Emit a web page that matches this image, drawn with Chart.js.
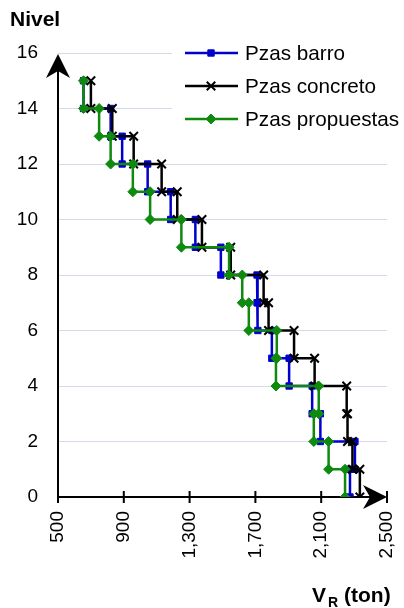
<!DOCTYPE html>
<html>
<head>
<meta charset="utf-8">
<script src="https://cdn.jsdelivr.net/npm/chart.js@4/dist/chart.umd.min.js"></script>
<style>
body { margin: 0; background: #fff; }
#wrap { width: 404px; height: 608px; position: relative; }
</style>
</head>
<body>
<div id="wrap"><canvas id="grafica"></canvas></div>
<script>
// entrepisos de arriba hacia abajo: el 15 va del nivel 15 al 14, etc.
var entrepisos  = [15, 14, 13, 12, 11, 10, 9, 8, 7, 6, 5, 4, 3, 2, 1];
var vBarro      = [655, 820, 890, 1045, 1185, 1335, 1490, 1710, 1715, 1800, 1905, 2045, 2095, 2305, 2275];
var vConcreto   = [700, 830, 960, 1130, 1225, 1375, 1550, 1750, 1780, 1935, 2060, 2255, 2260, 2290, 2335];
var vPropuestas = [655, 750, 820, 955, 1060, 1250, 1540, 1620, 1660, 1830, 1825, 2085, 2055, 2145, 2245];
var series      = ['Pzas barro', 'Pzas concreto', 'Pzas propuestas'];
var xTicks      = [500, 900, 1300, 1700, 2100, 2500];
var yTicks      = [0, 2, 4, 6, 8, 10, 12, 14, 16];

var fuente = "'Liberation Sans', Arial, sans-serif";

// cada entrepiso da un tramo vertical entre dos niveles
function escalones(valores) {
    var pts = [];
    entrepisos.forEach(function(n, i) {
        pts.push({x: valores[i], y: n});
        pts.push({x: valores[i], y: n - 1});
    });
    return pts;
}

function marcador(ctx, estilo, r, x, y) {
    ctx.beginPath();
    if (estilo == 'rect') {
        var s = r * Math.SQRT1_2;
        ctx.rect(x - s, y - s, 2 * s, 2 * s);
        ctx.fill(); ctx.stroke();
    } else if (estilo == 'rectRot') {
        ctx.moveTo(x, y - r); ctx.lineTo(x + r, y); ctx.lineTo(x, y + r); ctx.lineTo(x - r, y);
        ctx.closePath();
        ctx.fill(); ctx.stroke();
    } else {
        var c = r * Math.SQRT1_2;
        ctx.moveTo(x - c, y - c); ctx.lineTo(x + c, y + c);
        ctx.moveTo(x - c, y + c); ctx.lineTo(x + c, y - c);
        ctx.stroke();
    }
}

function flecha(ctx, x, y, dx, dy) {
    var L = 24, W = 12, N = 17;
    var px = -dy, py = dx;
    ctx.beginPath();
    ctx.moveTo(x, y);
    ctx.lineTo(x - L * dx + W * px, y - L * dy + W * py);
    ctx.lineTo(x - N * dx, y - N * dy);
    ctx.lineTo(x - L * dx - W * px, y - L * dy - W * py);
    ctx.closePath();
    ctx.fill();
}

var ejes = {
    id: 'ejes',
    beforeDatasetsDraw: function(chart) {
        var ctx = chart.ctx, a = chart.chartArea, xs = chart.scales.x;
        ctx.save();
        ctx.strokeStyle = '#000';
        ctx.fillStyle = '#000';
        ctx.lineWidth = 2;
        ctx.beginPath();
        ctx.moveTo(a.left, a.bottom); ctx.lineTo(a.left, a.top + 6);
        ctx.moveTo(a.left, a.bottom); ctx.lineTo(a.right - 6, a.bottom);
        xs.ticks.forEach(function(t) {
            var px = xs.getPixelForValue(t.value);
            ctx.moveTo(px, a.bottom - 6); ctx.lineTo(px, a.bottom + 6);
        });
        ctx.stroke();
        flecha(ctx, a.left, a.top + 1, 0, -1);
        flecha(ctx, a.right, a.bottom, 1, 0);
        ctx.restore();
    },
    afterDraw: function(chart) {
        var ctx = chart.ctx;
        ctx.save();
        // leyenda
        ctx.fillStyle = '#fff';
        ctx.fillRect(172, 36, 232, 100);
        chart.data.datasets.forEach(function(ds, i) {
            var y = 53 + i * 33;
            ctx.strokeStyle = ds.borderColor;
            ctx.fillStyle = ds.pointBackgroundColor;
            ctx.lineWidth = ds.borderWidth;
            ctx.beginPath(); ctx.moveTo(185, y); ctx.lineTo(238, y); ctx.stroke();
            ctx.lineWidth = ds.pointBorderWidth;
            marcador(ctx, ds.pointStyle, ds.pointRadius, 211, y);
            ctx.fillStyle = '#000';
            ctx.font = '20.7px ' + fuente;
            ctx.textBaseline = 'middle';
            ctx.textAlign = 'left';
            ctx.fillText(ds.label, 245, y + 1);
        });
        // titulos
        ctx.fillStyle = '#000';
        ctx.textBaseline = 'alphabetic';
        ctx.font = 'bold 21px ' + fuente;
        ctx.fillText('Nivel', 10, 26);
        ctx.font = 'bold 21px ' + fuente;
        ctx.fillText('V', 312, 602);
        ctx.font = 'bold 14px ' + fuente;
        ctx.fillText('R', 328, 607);
        ctx.font = 'bold 21px ' + fuente;
        ctx.fillText('(ton)', 344, 602);
        ctx.restore();
    }
};

var ctx = document.getElementById('grafica').getContext('2d');
var config = {
    type: 'scatter',
    data: {
        datasets: [{
            label: series[0],
            data: escalones(vBarro),
            borderColor: '#0000cc',
            backgroundColor: '#0000cc',
            pointBackgroundColor: '#0000cc',
            pointBorderColor: '#0000cc',
            pointStyle: 'rect',
            pointRadius: 4.5,
            pointBorderWidth: 1,
            borderWidth: 2.5,
            order: 3
        }, {
            label: series[1],
            data: escalones(vConcreto),
            borderColor: '#000000',
            backgroundColor: '#000000',
            pointBackgroundColor: '#000000',
            pointBorderColor: '#000000',
            pointStyle: 'crossRot',
            pointRadius: 6,
            pointBorderWidth: 2,
            borderWidth: 2.5,
            order: 2
        }, {
            label: series[2],
            data: escalones(vPropuestas),
            borderColor: '#0e8a0e',
            backgroundColor: '#0e8a0e',
            pointBackgroundColor: '#0e8a0e',
            pointBorderColor: '#0e8a0e',
            pointStyle: 'rectRot',
            pointRadius: 5,
            pointBorderWidth: 1,
            borderWidth: 2.5,
            order: 1
        }]
    },
    options: {
        responsive: true,
        maintainAspectRatio: false,
        animation: false,
        showLine: true,
        layout: { padding: { top: 53, right: 17, bottom: 0, left: 0 } },
        plugins: {
            legend: { display: false },
            tooltip: { enabled: false }
        },
        scales: {
            x: {
                type: 'linear',
                min: 500,
                max: 2500,
                afterBuildTicks: function(s) { s.ticks = xTicks.map(function(v) { return {value: v}; }); },
                afterFit: function(s) { s.height = 111; s.paddingLeft = 0; s.paddingRight = 0; },
                grid: { display: false, drawTicks: false },
                border: { display: false },
                ticks: {
                    minRotation: 90,
                    maxRotation: 90,
                    padding: 14,
                    color: '#000',
                    font: { family: fuente, size: 19 },
                    callback: function(v) { return v.toLocaleString('en-US'); }
                }
            },
            y: {
                type: 'linear',
                min: 0,
                max: 16,
                afterBuildTicks: function(s) { s.ticks = yTicks.map(function(v) { return {value: v}; }); },
                afterFit: function(s) { s.width = 58; s.paddingTop = 0; s.paddingBottom = 0; },
                grid: { color: '#d3dbe9', lineWidth: 1, drawTicks: false },
                border: { display: false },
                ticks: {
                    padding: 20,
                    color: '#000',
                    font: { family: fuente, size: 19 }
                }
            }
        }
    },
    plugins: [ejes]
};

var chart = new Chart(ctx, config);
</script>
</body>
</html>
